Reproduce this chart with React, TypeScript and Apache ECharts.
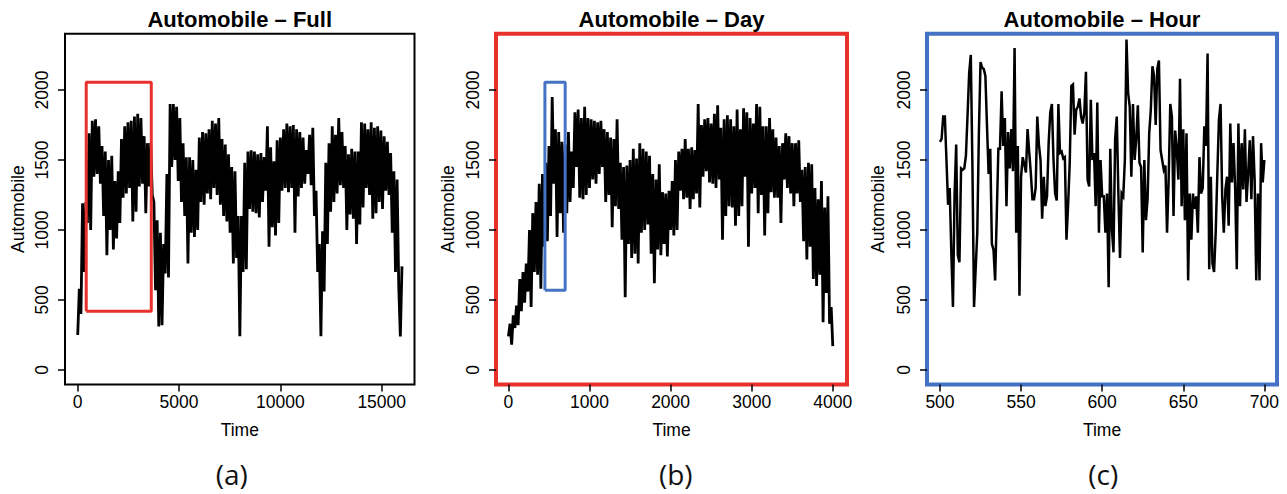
import React, { useEffect, useRef } from "react";
import * as echarts from "echarts";

// ---------------- DATA ----------------
// Panel (a): Automobile – Full, one value every 80 time units from t = 0
const fullStart = 0;
const fullStep = 80;
const fullValues = [
  250, 580, 400, 1190, 700, 1200, 1050, 1690, 1000, 1780,
  1380, 1790, 1400, 1740, 1330, 1600, 1100, 1560, 820, 1500,
  1000, 1530, 860, 1350, 940, 1420, 1050, 1650, 1230, 1740,
  1260, 1770, 1300, 1780, 1060, 1810, 1130, 1830, 1310, 1800,
  1330, 1670, 1120, 1620, 1310, 1620, 1250, 1200, 570, 1070,
  310, 980, 320, 900, 690, 1400, 660, 1900, 1450, 1900,
  1500, 1880, 1350, 1800, 1200, 1620, 1100, 1520, 760, 1520,
  980, 1500, 950, 1430, 1000, 1660, 1200, 1700, 1180, 1690,
  1260, 1720, 1220, 1780, 1300, 1760, 1250, 1800, 1180, 1650,
  1100, 1610, 1060, 1540, 980, 1450, 760, 1420, 800, 1100,
  240, 1100, 700, 1480, 720, 1560, 1150, 1570, 1130, 1560,
  1120, 1540, 1090, 1550, 1200, 1520, 1280, 1740, 880, 1590,
  1020, 1490, 960, 1640, 1050, 1660, 1280, 1720, 1300, 1760,
  1270, 1740, 1300, 1750, 980, 1720, 1240, 1700, 1300, 1660,
  1330, 1570, 1400, 1680, 1320, 1730, 1100, 1280, 700, 900,
  240, 990, 560, 1480, 900, 1620, 1130, 1740, 1200, 1680,
  1260, 1800, 1320, 1700, 1300, 1600, 1000, 1540, 1110, 1580,
  1080, 1560, 900, 1560, 1040, 1770, 1160, 1760, 1300, 1720,
  1250, 1770, 1080, 1730, 1120, 1740, 1200, 1710, 1150, 1670,
  1280, 1630, 1250, 1550, 980, 1420, 700, 1360, 600, 240,
  740,
];

// Panel (b): Automobile – Day, one value every 20 time units from t = 0
const dayStart = 0;
const dayStep = 20;
const dayValues = [
  240, 330, 180, 390, 300, 460, 320, 650, 420, 700,
  480, 760, 560, 1000, 450, 1120, 700, 1200, 680, 1330,
  580, 1400, 880, 1480, 920, 1600, 1100, 1950, 1330, 1720,
  950, 1700, 1120, 1630, 980, 1610, 1120, 1700, 1200, 1560,
  1300, 1840, 1450, 1860, 1230, 1800, 1220, 1880, 1250, 1800,
  1300, 1790, 1360, 1780, 1330, 1770, 1400, 1780, 1450, 1720,
  1200, 1700, 1250, 1660, 1020, 1650, 1170, 1790, 1150, 1480,
  930, 1450, 520, 1460, 900, 1500, 800, 1580, 830, 1510,
  760, 1620, 980, 1580, 1000, 1560, 1040, 1530, 830, 1400,
  620, 1360, 860, 1470, 820, 1270, 900, 1260, 810, 1280,
  1000, 1350, 960, 1500, 1000, 1560, 1280, 1580, 1220, 1650,
  1230, 1580, 1150, 1590, 1220, 1570, 1260, 1900, 1160, 1750,
  1380, 1790, 1420, 1800, 1340, 1760, 1330, 1830, 1300, 1890,
  1360, 1730, 930, 1790, 1100, 1820, 1170, 1790, 1160, 1740,
  1030, 1860, 1100, 1720, 1170, 1870, 1380, 1840, 880, 1800,
  1260, 1760, 1300, 1900, 1120, 1880, 1250, 1740, 960, 1740,
  1120, 1800, 1270, 1720, 1230, 1660, 1230, 1600, 1050, 1620,
  1360, 1690, 1300, 1670, 1260, 1620, 1170, 1620, 1260, 1640,
  1200, 1430, 920, 1450, 790, 1480, 880, 1470, 650, 1300,
  600, 1220, 680, 1350, 340, 1160, 550, 1240, 330, 450,
  170,
];

// Panel (c): Automobile – Hour, one value per time unit from t = 500
const hourStart = 500;
const hourStep = 1;
const hourValues = [
  1630, 1650, 1810, 1810, 1500, 1180, 1300, 840, 450, 1250,
  1610, 820, 770, 1440, 1430, 1440, 1530, 1820, 2120, 2250,
  1460, 450, 720, 980, 1700, 2200, 2160, 2150, 2100, 1740,
  1400, 1580, 900, 860, 640, 1100, 1580, 1580, 1990, 1600,
  1800, 1170, 1700, 1440, 1720, 1420, 2300, 980, 1600, 530,
  1380, 1520, 1470, 1410, 1720, 1560, 1410, 1220, 1220, 1300,
  1810, 1610, 1500, 1080, 1380, 1170, 1240, 1620, 1840, 1900,
  1500, 1260, 1210, 1900, 1550, 1560, 1510, 1520, 930, 1180,
  1480, 2030, 2040, 1680, 1860, 1880, 1940, 1810, 1760, 1840,
  2130, 1360, 1310, 1930, 1500, 1550, 1170, 1910, 980, 1500,
  1240, 1240, 980, 1260, 590, 1580, 1000, 840, 1650, 1810,
  1260, 800, 1260, 1240, 1500, 2360, 1980, 1880, 1380, 1900,
  1500, 1650, 1890, 1480, 1450, 840, 1500, 1070, 1220, 1690,
  1860, 2170, 2100, 1750, 2150, 2210, 1570, 1500, 1430, 1460,
  980, 1360, 1900, 1810, 1100, 1710, 1580, 1360, 2080, 1170,
  1720, 1070, 1690, 640, 1260, 930, 1260, 1150, 1240, 980,
  1520, 1260, 1300, 1740, 1600, 2260, 720, 1380, 760, 700,
  980, 1400, 1790, 1900, 1240, 980, 1290, 1380, 1030, 1760,
  1340, 1620, 1300, 720, 1760, 1170, 1620, 1290, 1720, 1200,
  1400, 1640, 1220, 1670, 1360, 640, 1260, 640, 1620, 1340,
  1500,
];

// Tick labels
const yTicks = [0, 500, 1000, 1500, 2000];
const fullTicks = [0, 5000, 10000, 15000];
const dayTicks = [0, 1000, 2000, 3000, 4000];
const hourTicks = [500, 550, 600, 650, 700];

// Texts
const titles = ["Automobile \u2013 Full", "Automobile \u2013 Day", "Automobile \u2013 Hour"];
const captions = ["(a)", "(b)", "(c)"];
const xName = "Time";
const yName = "Automobile";

// Zoom rectangles (data coordinates): [xFrom, xTo], [yFrom, yTo]
const fullZoomX = [420, 3630];
const fullZoomY = [420, 2055];
const dayZoomX = [450, 700];
const dayZoomY = [570, 2055];

// ---------------- LAYOUT ----------------
const RED = "#e8302c";
const BLUE = "#4472c4";
const PLOT_TOP = 33.7;
const PLOT_H = 350.8;
const Y_MIN = -104;
const Y_MAX = 2402;
const TICK_FONT = "'Liberation Sans', Arial, Helvetica, sans-serif";

const panels = [
  { left: 65, width: 349.5, frame: "#000", frameW: 2, xMin: -627, xMax: 16618, ticks: fullTicks, start: fullStart, step: fullStep, values: fullValues, lw: 2.8 },
  { left: 496, width: 351, frame: RED, frameW: 4, xMin: -153, xMax: 4175, ticks: dayTicks, start: dayStart, step: dayStep, values: dayValues, lw: 2.8 },
  { left: 927, width: 350, frame: BLUE, frameW: 4, xMin: 492, xMax: 707.8, ticks: hourTicks, start: hourStart, step: hourStep, values: hourValues, lw: 2.5 },
];

const captionX = [231.7, 675.8, 1103.3];
const yNameX = [17.5, 448, 878];

function boxData(xs: number[], ys: number[]) {
  return [
    [xs[0], ys[0]],
    [xs[1], ys[0]],
    [xs[1], ys[1]],
    [xs[0], ys[1]],
    [xs[0], ys[0]],
  ];
}

const plain = (v: number) => String(v);

export default function App() {
  const ref = useRef<HTMLDivElement>(null);

  useEffect(() => {
    if (!ref.current) return;
    const chart = echarts.init(ref.current, null, { renderer: "svg" });

    const grid = panels.map((p) => ({
      left: p.left,
      top: PLOT_TOP,
      width: p.width,
      height: PLOT_H,
      show: true,
      borderColor: p.frame,
      borderWidth: p.frameW,
      backgroundColor: "transparent",
      containLabel: false,
    }));

    const xAxis = panels.map((p, i) => ({
      type: "value",
      gridIndex: i,
      position: "bottom",
      min: p.xMin,
      max: p.xMax,
      axisLine: { show: false, onZero: false },
      splitLine: { show: false },
      axisTick: {
        show: true,
        inside: false,
        length: 7,
        customValues: p.ticks,
        lineStyle: { color: "#000", width: 1.5 },
      },
      axisLabel: {
        customValues: p.ticks,
        formatter: plain,
        margin: 8,
        color: "#000",
        fontFamily: TICK_FONT,
        fontSize: 17.5,
      },
    }));

    const yAxis = panels.map((_p, i) => ({
      type: "value",
      gridIndex: i,
      position: "left",
      min: Y_MIN,
      max: Y_MAX,
      axisLine: { show: false, onZero: false },
      splitLine: { show: false },
      axisTick: {
        show: true,
        inside: false,
        length: 7,
        customValues: yTicks,
        lineStyle: { color: "#000", width: 1.5 },
      },
      axisLabel: {
        customValues: yTicks,
        formatter: plain,
        rotate: 90,
        margin: 14,
        color: "#000",
        fontFamily: TICK_FONT,
        fontSize: 17.5,
      },
    }));

    const series: any[] = panels.map((p, i) => ({
      type: "line",
      xAxisIndex: i,
      yAxisIndex: i,
      data: p.values.map((v, k) => [p.start + k * p.step, v]),
      showSymbol: false,
      symbol: "none",
      silent: true,
      lineStyle: { color: "#000", width: p.lw, join: "miter", miterLimit: 4 },
      z: 2,
    }));

    series.push({
      type: "line",
      xAxisIndex: 0,
      yAxisIndex: 0,
      data: boxData(fullZoomX, fullZoomY),
      showSymbol: false,
      symbol: "none",
      silent: true,
      lineStyle: { color: RED, width: 3 },
      z: 5,
    });
    series.push({
      type: "line",
      xAxisIndex: 1,
      yAxisIndex: 1,
      data: boxData(dayZoomX, dayZoomY),
      showSymbol: false,
      symbol: "none",
      silent: true,
      lineStyle: { color: BLUE, width: 3 },
      z: 5,
    });

    const graphic: any[] = [];
    panels.forEach((p, i) => {
      const cx = p.left + p.width / 2;
      graphic.push({
        type: "text",
        x: cx,
        y: 19.5,
        style: {
          text: titles[i],
          fill: "#000",
          font: `bold 22px ${TICK_FONT}`,
          textAlign: "center",
          textVerticalAlign: "middle",
        },
      });
      graphic.push({
        type: "text",
        x: cx,
        y: 430,
        style: {
          text: xName,
          fill: "#000",
          font: `17.5px ${TICK_FONT}`,
          textAlign: "center",
          textVerticalAlign: "middle",
        },
      });
      graphic.push({
        type: "text",
        x: yNameX[i],
        y: PLOT_TOP + PLOT_H / 2,
        rotation: Math.PI / 2,
        style: {
          text: yName,
          fill: "#000",
          font: `17.5px ${TICK_FONT}`,
          textAlign: "center",
          textVerticalAlign: "middle",
        },
      });
      graphic.push({
        type: "text",
        x: captionX[i],
        y: 473.5,
        style: {
          text: captions[i],
          fill: "#111",
          font: `28px 'Open Sans', 'Noto Sans', sans-serif`,
          textAlign: "center",
          textVerticalAlign: "middle",
        },
      });
    });

    chart.setOption({
      animation: false,
      backgroundColor: "#fff",
      grid,
      xAxis,
      yAxis,
      series,
      graphic,
    });

    return () => chart.dispose();
  }, []);

  return (
    <div
      ref={ref}
      style={{ position: "fixed", left: 0, top: 0, width: 1287, height: 494, background: "#fff" }}
    />
  );
}
